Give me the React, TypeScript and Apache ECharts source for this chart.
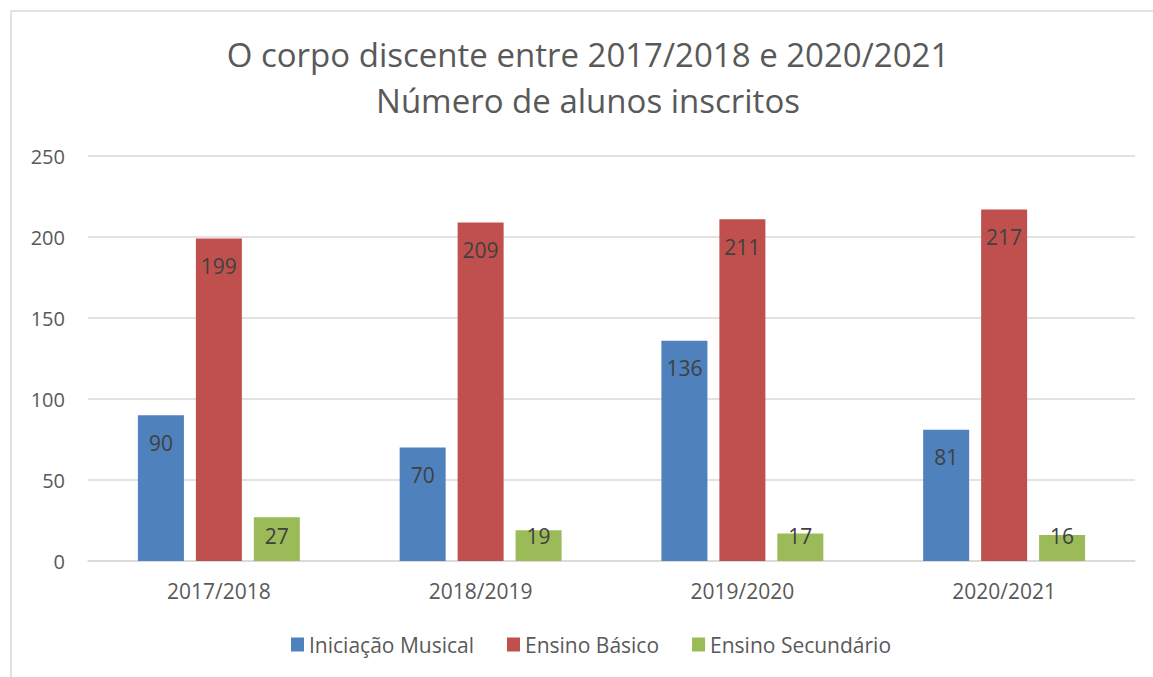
import React, { useEffect, useRef } from "react";
import * as echarts from "echarts";

const categories = ["2017/2018", "2018/2019", "2019/2020", "2020/2021"];
const iniciacaoMusical = [90, 70, 136, 81];
const ensinoBasico = [199, 209, 211, 217];
const ensinoSecundario = [27, 19, 17, 16];
const seriesNames = ["Iniciação Musical", "Ensino Básico", "Ensino Secundário"];
const colors = ["#4F81BD", "#C0504D", "#9BBB59"];

const FONT = "'Open Sans', sans-serif";

export default function App() {
  const ref = useRef<HTMLDivElement>(null);
  useEffect(() => {
    if (!ref.current) return;
    const chart = echarts.init(ref.current, undefined, { renderer: "svg" });
    const baseLabel = {
      show: true,
      color: "#404040",
      fontSize: 21,
      lineHeight: 21,
      fontFamily: FONT,
    };
    const mk = (name: string, data: number[], color: string, label: any) => ({
      name,
      type: "bar",
      data,
      barWidth: 46,
      barGap: "26%",
      itemStyle: { color },
      label,
    });
    chart.setOption({
      animation: false,
      backgroundColor: "#ffffff",
      textStyle: { fontFamily: FONT },
      graphic: [
        {
          type: "rect",
          shape: { x: 11, y: 11, width: 1160, height: 700 },
          style: { fill: "none", stroke: "#d9d9d9", lineWidth: 1.5 },
          silent: true,
        },
      ],
      title: {
        text: "O corpo discente entre 2017/2018 e 2020/2021\nNúmero de alunos inscritos",
        left: 588,
        textAlign: "center",
        top: 31,
        padding: 0,
        textStyle: {
          fontFamily: FONT,
          fontSize: 33,
          fontWeight: "normal",
          color: "#595959",
          lineHeight: 46,
        },
      },
      legend: {
        data: seriesNames,
        top: 629,
        left: 286,
        itemWidth: 13,
        itemHeight: 14,
        itemGap: 33,
        icon: "rect",
        textStyle: { fontFamily: FONT, fontSize: 21, color: "#595959" },
      },
      grid: { left: 88, right: 18, top: 156, bottom: 116, containLabel: false },
      xAxis: {
        type: "category",
        data: categories,
        axisLine: { lineStyle: { color: "#d9d9d9", width: 1.5 } },
        axisTick: { show: false },
        axisLabel: { color: "#595959", fontSize: 21, fontFamily: FONT, margin: 19 },
      },
      yAxis: {
        type: "value",
        min: 0,
        max: 250,
        interval: 50,
        axisLine: { show: false },
        axisTick: { show: false },
        splitLine: { lineStyle: { color: "#d9d9d9", width: 1.5 } },
        axisLabel: { color: "#595959", fontSize: 20, fontFamily: FONT, margin: 23 },
      },
      series: [
        mk(seriesNames[0], iniciacaoMusical, colors[0], { ...baseLabel, position: "insideTop", distance: 17 }),
        mk(seriesNames[1], ensinoBasico, colors[1], { ...baseLabel, position: "insideTop", distance: 17 }),
        mk(seriesNames[2], ensinoSecundario, colors[2], { ...baseLabel, position: "insideBottom", distance: 15 }),
      ],
    });
    return () => chart.dispose();
  }, []);
  return (
    <div
      ref={ref}
      style={{ position: "absolute", left: 0, top: 0, width: 1153, height: 677 }}
    />
  );
}
